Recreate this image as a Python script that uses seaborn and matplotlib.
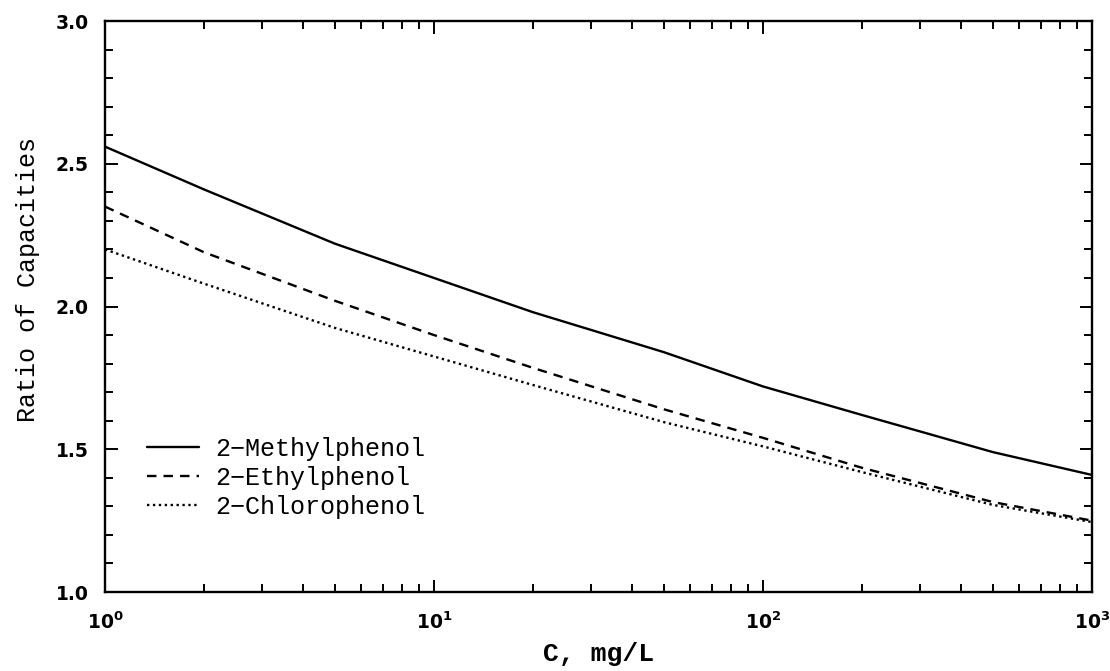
import matplotlib
matplotlib.use('Agg')
import matplotlib.pyplot as plt
from matplotlib.ticker import LogLocator, MultipleLocator, NullFormatter, FormatStrFormatter
import numpy as np
import pandas as pd
import seaborn as sns

# data
conc = [1, 2, 5, 10, 20, 50, 100, 200, 500, 1000]
methyl = [2.56, 2.41, 2.22, 2.10, 1.98, 1.84, 1.72, 1.62, 1.49, 1.41]
ethyl = [2.35, 2.19, 2.02, 1.90, 1.785, 1.64, 1.54, 1.435, 1.315, 1.25]
chloro = [2.20, 2.08, 1.925, 1.825, 1.725, 1.595, 1.51, 1.42, 1.305, 1.245]
names = ['2\u2212Methylphenol', '2\u2212Ethylphenol', '2\u2212Chlorophenol']

df = pd.DataFrame({'C': conc * 3,
                   'ratio': methyl + ethyl + chloro,
                   'compound': np.repeat(names, len(conc))})

sns.set_style('ticks')
plt.rcParams['font.family'] = ['DejaVu Sans']
plt.rcParams['mathtext.default'] = 'bf'
plt.rcParams['text.color'] = 'black'
plt.rcParams['axes.labelcolor'] = 'black'
plt.rcParams['xtick.color'] = 'black'
plt.rcParams['ytick.color'] = 'black'

fig = plt.figure(figsize=(11.1, 6.71), dpi=100)
ax = fig.add_axes([0.0946, 0.1177, 0.8892, 0.851])

dashes = {names[0]: '', names[1]: (4, 3), names[2]: (1, 1.5)}
for name in names:
    sub = df[df['compound'] == name]
    sns.lineplot(data=sub, x='C', y='ratio', ax=ax, color='black',
                 linewidth=1.7, label=name)
for line, name in zip(ax.get_lines(), names):
    if dashes[name]:
        line.set_dashes(dashes[name])

ax.set_xscale('log')
ax.set_xlim(1, 1000)
ax.set_ylim(1.0, 3.0)
ax.yaxis.set_major_locator(MultipleLocator(0.5))
ax.yaxis.set_minor_locator(MultipleLocator(0.1))
ax.xaxis.set_major_locator(LogLocator(base=10))
ax.xaxis.set_minor_locator(LogLocator(base=10, subs=np.arange(2, 10)))
ax.xaxis.set_minor_formatter(NullFormatter())
ax.yaxis.set_major_formatter(FormatStrFormatter('%.1f'))

for s in ax.spines.values():
    s.set_visible(True)
    s.set_linewidth(1.7)
    s.set_color('black')
ax.tick_params(which='both', direction='in', top=True, right=True,
               color='black', labelcolor='black', width=1.4)
ax.tick_params(which='major', length=9, labelsize=13.5)
ax.tick_params(axis='y', which='major', pad=12)
ax.tick_params(axis='x', which='major', pad=14)
ax.tick_params(which='minor', length=6)
for lab in ax.get_xticklabels() + ax.get_yticklabels():
    lab.set_fontweight('bold')

ax.set_xlabel('C, mg/L', fontsize=19, family='Liberation Mono',
              fontweight='bold', va='baseline', color='black')
ax.xaxis.set_label_coords(0.5, -0.1205)
ax.set_ylabel('Ratio of Capacities', fontsize=18, family='Liberation Mono',
              color='black')
ax.yaxis.set_label_coords(-0.066, 0.547)

leg = ax.legend(loc='lower left', bbox_to_anchor=(0.02, 0.089),
                frameon=False, handlelength=2.08, handletextpad=0.64,
                labelspacing=0.2, prop={'family': 'Liberation Mono', 'size': 18})
for t in leg.get_texts():
    t.set_color('black')

fig.savefig('out.png', dpi=100)
